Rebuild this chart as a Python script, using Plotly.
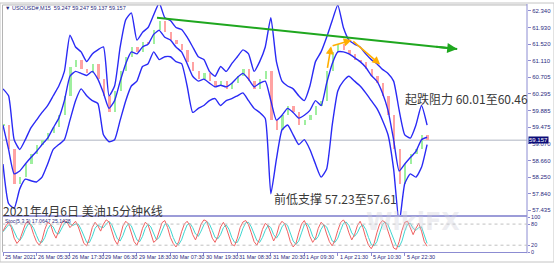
import plotly.graph_objects as go

# ---------------- data ----------------
date_labels = ["25 Mar 2021", "26 Mar 05:30", "26 Mar 17:30", "29 Mar 06:30",
               "29 Mar 18:30", "30 Mar 07:30", "30 Mar 19:30", "31 Mar 08:30",
               "31 Mar 20:30", "1 Apr 09:30", "1 Apr 21:30", "5 Apr 10:30",
               "5 Apr 22:30"]

# one point every 2 hours (8 bars of M15)
close = [59.53, 58.93, 58.09, 58.25, 58.57, 58.81, 59.05, 59.17, 59.33, 59.48,
         59.77, 60.25, 60.97, 61.14, 60.90, 60.80, 61.04, 60.66, 60.25, 59.84,
         60.37, 60.85, 61.21, 61.45, 61.33, 61.57, 61.52, 61.86, 62.10, 61.81,
         61.62, 61.52, 61.38, 61.09, 60.85, 60.66, 60.80, 60.61, 60.49, 60.61,
         60.42, 60.56, 60.73, 60.90, 60.61, 60.42, 60.66, 60.85, 59.65, 59.41,
         59.77, 60.01, 59.84, 59.53, 59.65, 59.77, 60.01, 60.13, 60.85, 61.33,
         61.52, 61.38, 61.28, 61.14, 61.09, 60.90, 60.73, 60.56, 60.25, 59.77,
         58.93, 58.09, 58.57, 58.81, 58.93, 59.29, 59.16]

upper = [60.42, 60.25, 59.17, 58.93, 59.17, 59.46, 59.65, 59.84, 60.01, 60.25,
         60.49, 60.85, 61.74, 61.45, 61.33, 61.09, 61.28, 61.38, 61.45, 60.25,
         60.49, 61.45, 62.12, 62.29, 61.62, 61.81, 61.93, 62.24, 62.53, 62.17,
         62.10, 61.93, 61.88, 61.69, 61.45, 61.21, 61.14, 60.85, 60.73, 60.97,
         60.85, 61.04, 61.21, 61.38, 61.28, 60.85, 61.09, 61.45, 62.17, 61.09,
         60.61, 60.49, 60.42, 60.25, 60.13, 60.49, 61.09, 61.33, 61.69, 62.10,
         62.48, 61.93, 61.62, 61.52, 61.45, 61.28, 61.14, 61.04, 60.90, 60.80,
         60.61, 59.89, 59.29, 59.21, 59.53, 60.01, 59.53]

middle = [59.53, 58.93, 58.33, 58.40, 58.57, 58.73, 58.88, 59.05, 59.21, 59.46,
          59.70, 60.13, 60.73, 60.85, 60.80, 60.75, 60.85, 60.66, 60.32, 59.94,
          60.13, 60.61, 61.04, 61.33, 61.28, 61.45, 61.52, 61.76, 61.86, 61.69,
          61.62, 61.45, 61.33, 61.04, 60.73, 60.61, 60.66, 60.56, 60.47, 60.51,
          60.47, 60.56, 60.70, 60.80, 60.66, 60.47, 60.56, 60.61, 60.13, 59.65,
          59.77, 59.94, 59.84, 59.70, 59.77, 59.89, 60.13, 60.01, 60.56, 61.04,
          61.33, 61.33, 61.28, 61.19, 61.09, 60.95, 60.75, 60.61, 60.32, 59.89,
          59.17, 58.40, 58.57, 58.73, 58.88, 59.17, 59.23]

lower = [58.57, 57.60, 57.48, 57.96, 58.20, 58.16, 58.13, 58.25, 58.57, 58.93,
         59.05, 59.17, 59.65, 60.13, 60.42, 60.25, 60.13, 60.06, 59.29, 59.12,
         59.17, 59.65, 60.13, 60.49, 60.61, 60.97, 61.04, 61.33, 61.14, 61.21,
         61.21, 61.09, 61.04, 60.49, 59.84, 59.94, 60.01, 60.13, 60.18, 60.01,
         60.13, 60.18, 60.25, 60.32, 60.13, 59.94, 59.84, 59.69, 57.84, 58.69,
         59.41, 59.53, 59.29, 59.05, 59.17, 58.93, 58.57, 58.25, 58.45, 59.53,
         60.37, 60.61, 60.73, 60.61, 60.49, 60.32, 60.13, 59.94, 59.65, 59.29,
         58.45, 57.12, 58.09, 58.33, 58.25, 58.49, 59.05]

# stochastic, one point every hour
stoch_k = [60, 75, 85, 70, 40, 25, 35, 60, 80, 88,
           75, 50, 30, 20, 35, 65, 85, 80, 55, 40,
           60, 82, 90, 85, 70, 78, 88, 72, 45, 25,
           18, 40, 70, 85, 75, 60, 80, 92, 86, 60,
           35, 22, 45, 75, 88, 80, 55, 30, 20, 40,
           68, 85, 78, 50, 28, 35, 62, 84, 90, 70,
           42, 25, 15, 30, 58, 80, 88, 75, 50, 35,
           55, 80, 92, 88, 65, 40, 28, 45, 72, 85,
           70, 45, 22, 18, 40, 70, 86, 90, 78, 55,
           30, 20, 38, 65, 82, 75, 50, 32, 48, 76,
           88, 80, 58, 30, 15, 25, 55, 80, 90, 72,
           45, 28, 40, 68, 85, 78, 52, 30, 18, 35,
           62, 84, 92, 80, 55, 35, 50, 75, 88, 70,
           42, 20, 10, 25, 55, 80, 90, 85, 60, 38,
           12, 8, 30, 62, 85, 88, 70, 50, 68, 82,
           60, 30, 17.06]
stoch_d = [58, 68, 78, 76, 60, 42, 33, 45, 65, 80,
           80, 68, 48, 30, 28, 42, 65, 78, 72, 55,
           52, 68, 82, 86, 80, 76, 80, 80, 65, 45,
           28, 28, 45, 68, 78, 72, 70, 80, 88, 78,
           58, 38, 32, 48, 70, 82, 75, 55, 35, 30,
           45, 68, 80, 72, 52, 35, 42, 62, 80, 80,
           65, 42, 25, 22, 35, 58, 78, 82, 70, 52,
           45, 60, 78, 88, 80, 62, 42, 38, 50, 70,
           78, 65, 42, 28, 28, 45, 68, 84, 85, 72,
           52, 33, 28, 42, 62, 76, 70, 50, 40, 52,
           72, 82, 76, 55, 32, 22, 32, 55, 78, 82,
           68, 45, 35, 45, 65, 78, 72, 52, 32, 28,
           40, 62, 82, 86, 76, 55, 45, 55, 72, 78,
           65, 42, 22, 18, 30, 55, 78, 86, 78, 58,
           35, 18, 15, 32, 60, 80, 82, 68, 62, 70,
           72, 50, 25.14]

price_ticks = [62.340, 61.930, 61.520, 61.110, 60.705, 60.295, 59.885,
               59.475, 59.070, 58.660, 58.250, 57.840, 57.435]
stoch_ticks = [0, 20, 80, 100]
last_price = 59.157
trend_x = [27.6, 81.4]
trend_y = [62.17, 61.40]
orange_x = [58.1, 58.8, 62.5, 67.6]
orange_y = [60.90, 61.47, 61.62, 61.02]
header = "▼ USOUSD#,M15  59.247 59.247 59.137 59.157"
stoch_title = "Stoc(5,3,3) 17.0647 25.1428"
title_text = "2021年4月6日 美油15分钟K线"
support_text = "前低支撑 57.23至57.61"
support_pos = (48.2, 57.72)
resist_text = "起跌阻力 60.01至60.46"
resist_pos = (71.7, 60.18)

# ---------------- derived structure ----------------
n = len(close)
bars = list(range(n))
opens = [close[0]] + close[:-1]
body_base = [min(o, c) for o, c in zip(opens, close)]
body_len = [max(abs(c - o), 0.03) for o, c in zip(opens, close)]
body_col = ["#9fef9f" if c >= o else "#ffa3a3" for o, c in zip(opens, close)]
stoch_x = [k * 0.5 for k in range(len(stoch_k))]
label_pos = [6 * k for k in range(len(date_labels))]

W, H = 554, 265
def px(x):
    return x / W
def py(y):
    return 1 - y / H

XL, XR = 2.5, 527
x_range = [(XL - 3) / 5.58, (XR - 3) / 5.58]

BLUE = "#2a2af5"
AXC = "#8c8cd2"
TXT = "#2b2b80"
TF = "Liberation Sans"
CJK = "Noto Sans CJK SC"

fig = go.Figure()

fig.add_trace(go.Bar(x=bars, y=body_len, base=body_base, width=0.42,
                     marker=dict(color=body_col, line=dict(width=0)),
                     xaxis="x", yaxis="y", hoverinfo="skip"))

for series in (upper, middle, lower):
    fig.add_trace(go.Scatter(x=bars, y=series, mode="lines",
                             line=dict(color=BLUE, width=1.4, shape="spline", smoothing=0.5),
                             xaxis="x", yaxis="y", hoverinfo="skip"))

fig.add_trace(go.Scatter(x=trend_x, y=trend_y, mode="lines",
                         line=dict(color="#1fa71f", width=2), xaxis="x", yaxis="y"))

fig.add_trace(go.Scatter(x=stoch_x, y=stoch_d, mode="lines",
                         line=dict(color="#3fd6d0", width=1), xaxis="x2", yaxis="y2"))
fig.add_trace(go.Scatter(x=stoch_x, y=stoch_k, mode="lines",
                         line=dict(color="#f06060", width=1), xaxis="x2", yaxis="y2"))

annotations = []
annotations.append(dict(x=trend_x[1], y=trend_y[1], ax=trend_x[1] - 4, ay=trend_y[1] + 0.057,
                        xref="x", yref="y", axref="x", ayref="y", text="", showarrow=True,
                        arrowhead=2, arrowsize=1, arrowwidth=2, arrowcolor="#1fa71f"))
for k in range(len(orange_x) - 1):
    annotations.append(dict(x=orange_x[k + 1], y=orange_y[k + 1], ax=orange_x[k], ay=orange_y[k],
                            xref="x", yref="y", axref="x", ayref="y", text="", showarrow=True,
                            arrowhead=2, arrowsize=1, arrowwidth=1.6, arrowcolor="#ffae00"))

annotations.append(dict(x=px(3), y=py(5), xref="paper", yref="paper", text=header,
                        showarrow=False, xanchor="left", yanchor="middle",
                        font=dict(family=TF, size=5.5, color=TXT)))
annotations.append(dict(x=px(3), y=py(223), xref="paper", yref="paper", text=stoch_title,
                        showarrow=False, xanchor="left", yanchor="middle",
                        font=dict(family=TF, size=5.2, color=TXT)))
annotations.append(dict(x=px(462), y=py(240), xref="paper", yref="paper", text="<b>WikiFX</b>",
                        showarrow=False, font=dict(family="DejaVu Sans", size=24,
                                                    color="rgba(205,205,215,0.35)")))
annotations.append(dict(x=px(1), y=py(212), xref="paper", yref="paper", text=title_text,
                        showarrow=False, xanchor="left", yanchor="middle",
                        font=dict(family=CJK, size=12, color="#383838")))
annotations.append(dict(x=support_pos[0], y=support_pos[1], xref="x", yref="y", text=support_text,
                        showarrow=False, xanchor="left", yanchor="middle",
                        font=dict(family=CJK, size=12, color="#383838")))
annotations.append(dict(x=resist_pos[0], y=resist_pos[1], xref="x", yref="y", text=resist_text,
                        showarrow=False, xanchor="left", yanchor="middle",
                        font=dict(family=CJK, size=12, color="#383838")))
for lab, pos in zip(date_labels, label_pos):
    annotations.append(dict(x=pos, y=py(259.5), xref="x2", yref="paper", text=lab,
                            showarrow=False, xanchor="left", yanchor="middle",
                            font=dict(family=TF, size=5.5, color=TXT)))
annotations.append(dict(x=px(528), y=last_price, xref="paper", yref="y",
                        text=f"{last_price:.3f}", showarrow=False, xanchor="left",
                        yanchor="middle", bgcolor="#0c0c78", borderpad=0,
                        font=dict(family=TF, size=6, color="white")))

shapes = [
    dict(type="line", xref="paper", yref="y", x0=px(XL), x1=px(XR), y0=last_price, y1=last_price,
         line=dict(color="#c9cdd6", width=1.5), layer="below"),
    dict(type="line", xref="paper", yref="paper", x0=px(XL), x1=px(XR), y0=py(218), y1=py(218),
         line=dict(color="#9c9cd8", width=2)),
    dict(type="line", xref="paper", yref="paper", x0=px(XL), x1=px(XR), y0=py(2), y1=py(2),
         line=dict(color="#b4b4b4", width=1)),
    dict(type="line", xref="paper", yref="paper", x0=px(XL), x1=px(XL), y0=py(2), y1=py(255),
         line=dict(color="#b4b4b4", width=1)),
    dict(type="line", xref="paper", yref="paper", x0=px(XR), x1=px(XR), y0=py(1), y1=py(256),
         line=dict(color=AXC, width=1)),
    dict(type="line", xref="paper", yref="y2", x0=px(XL), x1=px(XR), y0=80, y1=80,
         line=dict(color="#c0c0c0", width=1, dash="dot")),
    dict(type="line", xref="paper", yref="y2", x0=px(XL), x1=px(XR), y0=20, y1=20,
         line=dict(color="#c0c0c0", width=1, dash="dot")),
    dict(type="rect", xref="paper", yref="paper", x0=0, x1=1, y0=0, y1=1,
         line=dict(color="#c4c4c4", width=1)),
]

fig.update_layout(
    width=W, height=H, margin=dict(l=0, r=0, t=0, b=0),
    paper_bgcolor="white", plot_bgcolor="white", showlegend=False,
    annotations=annotations, shapes=shapes, bargap=0,
    xaxis=dict(domain=[px(XL), px(XR)], range=x_range, showticklabels=False, showgrid=False,
               zeroline=False, anchor="y"),
    yaxis=dict(domain=[py(217), py(2)], range=[57.315, 62.484], side="right", anchor="x",
               tickvals=price_ticks, ticktext=[f"{v:.3f}" for v in price_ticks],
               ticks="outside", ticklen=3, tickcolor=AXC, showline=False,
               tickfont=dict(family=TF, size=6, color=TXT), showgrid=False, zeroline=False),
    xaxis2=dict(domain=[px(XL), px(XR)], range=x_range, matches="x", anchor="y2",
                tickvals=label_pos, showticklabels=False, ticks="outside", ticklen=3,
                tickcolor=AXC, showline=True, linecolor=AXC, showgrid=False, zeroline=False),
    yaxis2=dict(domain=[py(255), py(219)], range=[0, 100], side="right", anchor="x2",
                tickvals=stoch_ticks, ticktext=[str(v) for v in stoch_ticks],
                ticks="outside", ticklen=2, tickcolor=AXC,
                tickfont=dict(family=TF, size=5.5, color=TXT), showgrid=False, zeroline=False),
)

fig.write_html("out.html")
